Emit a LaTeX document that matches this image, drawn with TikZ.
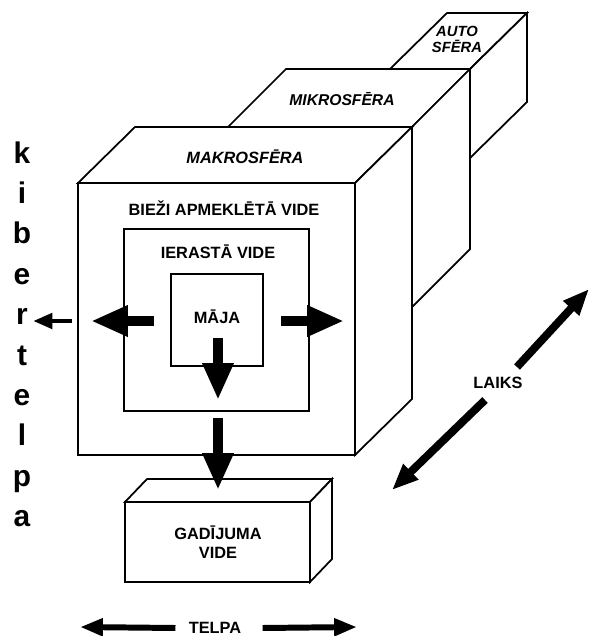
\documentclass[tikz,border=0pt]{standalone}
\usepackage{fontspec}
\setmainfont{Liberation Sans}
\usetikzlibrary{arrows.meta}
\usetikzlibrary{calc}

\tikzset{
  box/.style={draw=black, fill=white, line width=1pt, line join=miter},
  lbl/.style={font=\fontsize{9.3}{11}\selectfont\bfseries, align=center, inner sep=0pt},
  sphere/.style={lbl, font=\fontsize{9.3}{10}\selectfont\bfseries\itshape},
  bigarrow/.style={line width=6.2pt, -{Triangle[length=21pt,width=16.5pt]}},
  thinarrow/.style={line width=2.8pt, -{Triangle[length=11pt,width=8.5pt]}},
  telarrow/.style={line width=3.4pt, -{Triangle[length=13pt,width=9.5pt]}},
  timearrow/.style={line width=4.5pt, -{Triangle[length=15pt,width=11.5pt]}},
  vletter/.style={font=\fontsize{17}{17}\selectfont\bfseries, anchor=base, inner sep=0pt}
}

\begin{document}
\begin{tikzpicture}[x=0.02cm, y=-0.02cm]
\useasboundingbox (0,0) rectangle (592,636);

% autosfera (back box)
\filldraw[box] (390,69) rectangle (470,158);
\filldraw[box] (390,69) -- (447,13) -- (527,13) -- (470,69) -- cycle;
\filldraw[box] (470,69) -- (527,13) -- (527,102) -- (470,158) -- cycle;
\node[sphere, font=\fontsize{8.4}{9.2}\selectfont\bfseries\itshape] (auto) at (457,39) {AUTO\\SFĒRA};

% mikrosfera
\filldraw[box] (228,127) rectangle (412,307);
\filldraw[box] (228,127) -- (286,69) -- (470,69) -- (412,127) -- cycle;
\filldraw[box] (412,127) -- (470,69) -- (470,249) -- (412,307) -- cycle;
\node[sphere, font=\fontsize{8.9}{10}\selectfont\bfseries\itshape] (mikro) at (342,99) {MIKROSFĒRA};

% makrosfera
\filldraw[box] (78,183) rectangle (355,455);
\filldraw[box] (78,183) -- (135,127) -- (412,127) -- (355,183) -- cycle;
\filldraw[box] (355,183) -- (412,127) -- (412,399) -- (355,455) -- cycle;
\node[sphere] (makro) at (245,157) {MAKROSFĒRA};
\node[lbl] (biezi) at (224,208) {BIEŽI APMEKLĒTĀ VIDE};

% ierasta vide and maja
\draw[box] (124,229) rectangle (309,411);
\node[lbl] (ierasta) at (218,252) {IERASTĀ VIDE};
\draw[box] (171,274) rectangle (263,366);
\node[lbl] (maja) at (217,317) {MĀJA};

% gadijuma vide
\filldraw[box] (125,502) rectangle (310,582);
\filldraw[box] (125,502) -- (147,479) -- (332,479) -- (310,502) -- cycle;
\filldraw[box] (310,502) -- (332,479) -- (332,559) -- (310,582) -- cycle;
\node[lbl] (gadijuma) at (218,542) {GADĪJUMA\\VIDE};

% block arrows
\coordinate (L1) at (154,321);
\coordinate (L2) at (91,321);
\coordinate (R1) at (281,321);
\coordinate (R2) at (344,321);
\coordinate (D1) at (218,338);
\coordinate (D2) at (218,400);
\coordinate (G1) at (218,418);
\coordinate (G2) at (218,490);
\draw[bigarrow] (L1) -- (L2);
\draw[bigarrow] (R1) -- (R2);
\draw[bigarrow] (D1) -- (D2);
\draw[bigarrow] (G1) -- (G2);

% kibertelpa
\foreach \ch [count=\i from 0] in {k,i,b,e,r,t,e,l,p,a}
  \node[vletter] (k\i) at (22,163+40.4*\i) {\ch};
\coordinate (K1) at (72,321);
\coordinate (K2) at (33,321);
\draw[thinarrow] (K1) -- (K2);

% telpa
\node[lbl] (telpa) at (215,628) {TELPA};
\coordinate (T1) at (80,627);
\coordinate (T2) at (357,627);
\draw[telarrow] (telpa.west) ++(-13,0) -- (T1);
\draw[telarrow] (telpa.east) ++(21,0) -- (T2);

% laiks
\node[lbl] (laiks) at (498,383) {LAIKS};
\coordinate (A1) at (517,367);
\coordinate (A2) at (589,289);
\coordinate (B1) at (485,400);
\coordinate (B2) at (392,490);
\draw[timearrow] (A1) -- (A2);
\draw[timearrow] (B1) -- (B2);
\end{tikzpicture}
\end{document}
